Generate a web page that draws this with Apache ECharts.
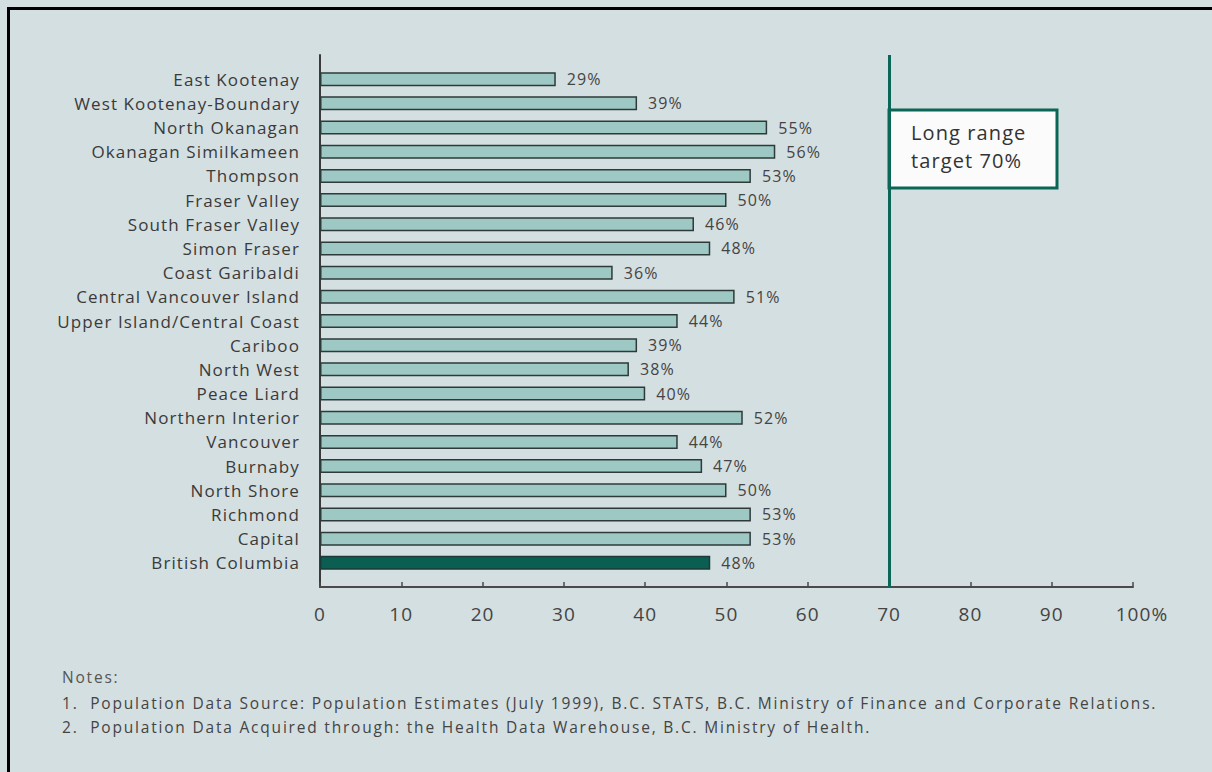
<!DOCTYPE html>
<html>
<head>
<meta charset="utf-8">
<script src="https://cdn.jsdelivr.net/npm/echarts@6/dist/echarts.min.js"></script>
<style>
  html, body { margin: 0; padding: 0; background: #d4dfe1; }
  #container { width: 1212px; height: 772px; }
  /* the source GIF text is loosely tracked */
  #container text { letter-spacing: 1.1px; }
  #container text[style*="15.5px"] { letter-spacing: 1.8px; }
</style>
</head>
<body>
<div id="container"></div>
<script>
// regions, top to bottom
var regions = ['East Kootenay', 'West Kootenay-Boundary', 'North Okanagan', 'Okanagan Similkameen',
    'Thompson', 'Fraser Valley', 'South Fraser Valley', 'Simon Fraser', 'Coast Garibaldi',
    'Central Vancouver Island', 'Upper Island/Central Coast', 'Cariboo', 'North West', 'Peace Liard',
    'Northern Interior', 'Vancouver', 'Burnaby', 'North Shore', 'Richmond', 'Capital', 'British Columbia'];
var percent = [29, 39, 55, 56, 53, 50, 46, 48, 36, 51, 44, 39, 38, 40, 52, 44, 47, 50, 53, 53, 48];
var xTicks = [0, 10, 20, 30, 40, 50, 60, 70, 80, 90, 100];
var target = 70;
var notes = ['Notes:',
    '1.  Population Data Source: Population Estimates (July 1999), B.C. STATS, B.C. Ministry of Finance and Corporate Relations.',
    '2.  Population Data Acquired through: the Health Data Warehouse, B.C. Ministry of Health.'];

var FONT = 'Open Sans';
var dom = document.getElementById('container');
var myChart = echarts.init(dom, null, {renderer: 'svg'});

// blank slot top and bottom gives half-band gaps at both ends of the axis
var cats = [''].concat(regions).concat(['']);
var barData = [null];
percent.forEach(function (v, i) {
    var total = regions[i] === 'British Columbia';
    barData.push({
        value: v,
        itemStyle: total ? {color: '#0b5e52', borderColor: '#1e3a36'} : {}
    });
});
barData.push(null);

var option = {
    backgroundColor: '#d4dfe1',
    animation: false,
    textStyle: {fontFamily: FONT},
    grid: {left: 320, right: 79, top: 55, bottom: 185},
    xAxis: {
        type: 'value',
        min: 0,
        max: 100,
        interval: 10,
        axisLine: {show: true, lineStyle: {color: '#4a4a4a', width: 2}},
        axisTick: {show: true, inside: true, length: 5, lineStyle: {color: '#4a4a4a', width: 1.5}},
        axisLabel: {
            color: '#444',
            fontSize: 19,
            margin: 17,
            fontFamily: FONT,
            formatter: function (v) {
                // the % hangs past the tick, the number stays centred on it
                return v === xTicks[xTicks.length - 1] ? '{last|' + v + '%}' : '' + v;
            },
            rich: {
                last: {fontSize: 19, color: '#444', fontFamily: FONT, padding: [0, 0, 0, 18]}
            }
        },
        splitLine: {show: false}
    },
    yAxis: {
        type: 'category',
        inverse: true,
        boundaryGap: false,
        data: cats,
        axisLine: {show: true, lineStyle: {color: '#3a3a3a', width: 2}},
        axisTick: {show: false},
        axisLabel: {color: '#3a3a3a', fontSize: 17, margin: 20, fontFamily: FONT, interval: 0}
    },
    series: [{
        type: 'bar',
        data: barData,
        barWidth: 14,
        itemStyle: {color: '#9dc8c4', borderColor: '#2e3a3a', borderWidth: 1.5},
        label: {
            show: true,
            position: 'right',
            distance: 11,
            color: '#444',
            fontSize: 16,
            fontFamily: FONT,
            formatter: '{c}%'
        },
        markLine: {
            silent: true,
            symbol: 'none',
            label: {show: false},
            lineStyle: {color: '#0a6656', width: 3, type: 'solid'},
            data: [{xAxis: target}]
        }
    }],
    graphic: [
        // frame lines on top and left
        {type: 'rect', shape: {x: 7, y: 7, width: 1205, height: 3}, style: {fill: '#000'}},
        {type: 'rect', shape: {x: 7, y: 7, width: 3, height: 765}, style: {fill: '#000'}},
        // long range target box
        {type: 'rect', shape: {x: 889, y: 110, width: 168, height: 78},
            style: {fill: '#fbfbfb', stroke: '#0a6656', lineWidth: 3}},
        {type: 'text', left: 911, top: 118,
            style: {text: 'Long range\ntarget 70%', fill: '#333', font: '20px "' + FONT + '"', lineHeight: 28}},
        // notes
        {type: 'text', left: 62, top: 669, style: {text: notes[0], fill: '#555', font: '15.5px "' + FONT + '"'}},
        {type: 'text', left: 62, top: 695, style: {text: notes[1], fill: '#444', font: '15.5px "' + FONT + '"'}},
        {type: 'text', left: 62, top: 719, style: {text: notes[2], fill: '#444', font: '15.5px "' + FONT + '"'}}
    ]
};
myChart.setOption(option);
</script>
</body>
</html>
